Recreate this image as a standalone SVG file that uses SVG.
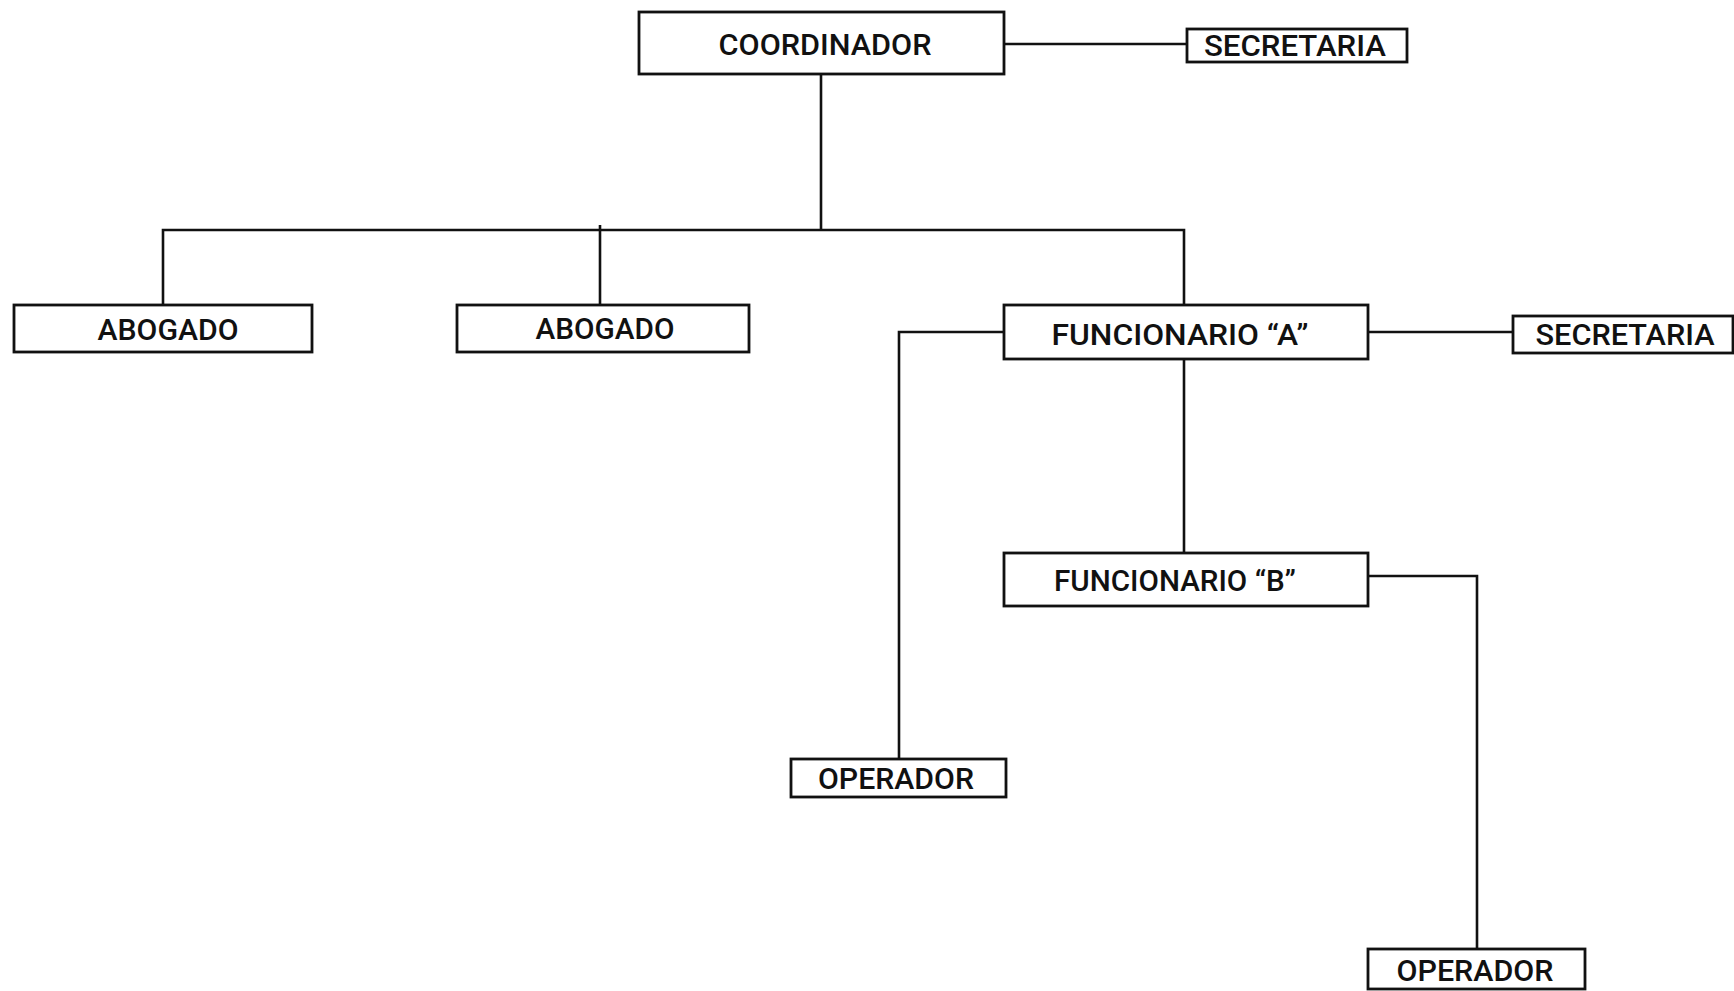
<svg xmlns="http://www.w3.org/2000/svg" width="1734" height="991" viewBox="0 0 1734 991">
<style>
.box{fill:#fff;stroke:#111;stroke-width:2.8}
.lbl{font-family:Roboto,"Liberation Sans",Arial,sans-serif;font-weight:500;font-size:29px;fill:#111;text-anchor:middle}
.con{fill:none;stroke:#111;stroke-width:2.6}
</style>
<rect x="0" y="0" width="1734" height="991" fill="#fff"/>
<g id="connectors">
<line class="con" x1="1004" y1="44" x2="1187" y2="44"/>
<polyline class="con" points="821,74 821,230"/>
<polyline class="con" points="163,305 163,230 1184,230 1184,305"/>
<line class="con" x1="600" y1="225" x2="600" y2="305"/>
<line class="con" x1="1368" y1="332" x2="1513" y2="332"/>
<polyline class="con" points="1004,332 899,332 899,759"/>
<line class="con" x1="1184" y1="359" x2="1184" y2="553"/>
<polyline class="con" points="1368,576 1477,576 1477,949"/>
</g>
<g id="coordinador">
<rect class="box" x="639" y="12" width="365" height="62"/>
<text class="lbl" x="825" y="55" textLength="213" lengthAdjust="spacingAndGlyphs">COORDINADOR</text>
</g>
<g id="secretaria1">
<rect class="box" x="1187" y="29" width="220" height="33"/>
<text class="lbl" x="1295" y="56" textLength="182" lengthAdjust="spacingAndGlyphs">SECRETARIA</text>
</g>
<g id="abogado1">
<rect class="box" x="14" y="305" width="298" height="47"/>
<text class="lbl" x="168" y="340" textLength="141" lengthAdjust="spacingAndGlyphs">ABOGADO</text>
</g>
<g id="abogado2">
<rect class="box" x="457" y="305" width="292" height="47"/>
<text class="lbl" x="605" y="339" textLength="139" lengthAdjust="spacingAndGlyphs">ABOGADO</text>
</g>
<g id="funcionarioA">
<rect class="box" x="1004" y="305" width="364" height="54"/>
<text class="lbl" x="1180" y="345" textLength="257" lengthAdjust="spacingAndGlyphs">FUNCIONARIO “A”</text>
</g>
<g id="secretaria2">
<rect class="box" x="1513" y="316" width="220" height="37"/>
<text class="lbl" x="1625" y="345" textLength="179" lengthAdjust="spacingAndGlyphs">SECRETARIA</text>
</g>
<g id="funcionarioB">
<rect class="box" x="1004" y="553" width="364" height="53"/>
<text class="lbl" x="1175" y="591" textLength="242" lengthAdjust="spacingAndGlyphs">FUNCIONARIO “B”</text>
</g>
<g id="operador1">
<rect class="box" x="791" y="759" width="215" height="38"/>
<text class="lbl" x="896" y="789" textLength="156" lengthAdjust="spacingAndGlyphs">OPERADOR</text>
</g>
<g id="operador2">
<rect class="box" x="1368" y="949" width="217" height="40"/>
<text class="lbl" x="1475" y="981" textLength="157" lengthAdjust="spacingAndGlyphs">OPERADOR</text>
</g>
</svg>
